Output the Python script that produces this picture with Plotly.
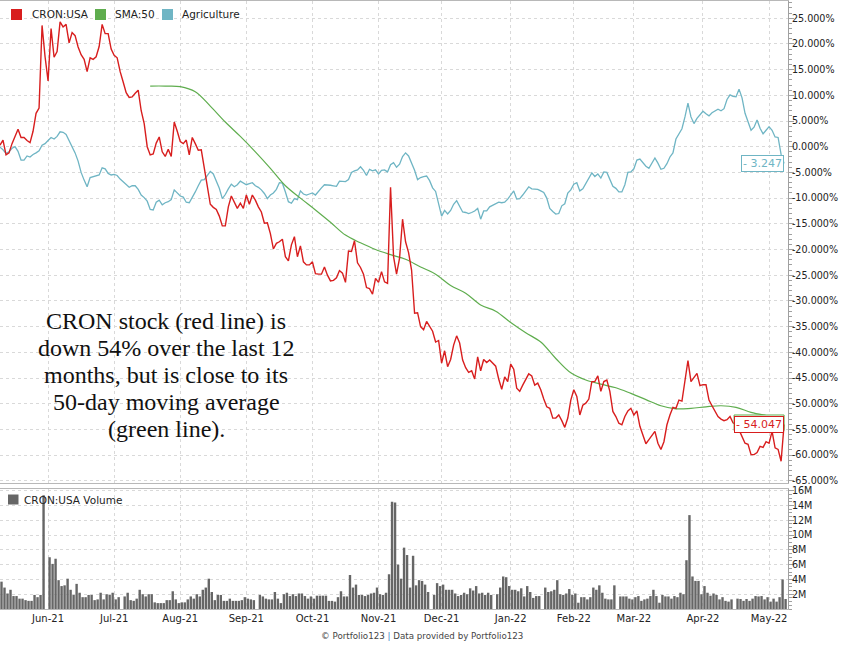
import plotly.graph_objects as go
import pandas as pd

# ---------------- data ----------------
start_date = "2021-05-10"          # first session shown (weekday axis, holidays kept as empty slots)

# CRON:USA, % change since start (one value per weekday)
cron = [0.3, 1.3, -1.6, -1.2, 0.6, 2.2, 3.4, 1.8, 1.8, 1.2, 0.8, 3.0, 6.5, 7.5, 23.6, 17.5, 12.8, 23.0, 17.4, 18.5,
        24.3, 23.3, 23.8, 20.2, 22.2, 21.6, 19.4, 17.9, 17.0, 14.6, 17.3, 17.0, 17.5, 19.5, 23.8, 22.0, 22.0, 19.0, 17.8, 17.3,
        14.6, 12.6, 10.5, 9.6, 9.7, 10.4, 11.0, 7.0, 4.5, 0.0, -1.6, -1.4, 0.7, 1.9, -1.0, -1.9, -0.5, -1.9, 4.8, 3.0,
        1.0, 0.6, 1.3, -1.6, 1.8, 0.6, -0.7, -0.6, -3.9, -7.8, -11.2, -11.8, -12.2, -13.5, -15.4, -15.4, -11.7, -9.6, -10.7, -12.0,
        -11.0, -12.0, -9.4, -11.2, -9.4, -10.4, -11.7, -12.7, -14.9, -14.8, -16.9, -19.9, -18.8, -18.5, -18.0, -21.4, -22.2, -19.1, -17.5, -21.4,
        -19.3, -22.4, -23.0, -23.0, -22.4, -24.7, -24.8, -24.8, -23.4, -25.0, -26.1, -26.0, -25.5, -24.1, -24.6, -26.4, -20.3, -20.4, -18.3, -22.6,
        -23.5, -24.8, -27.4, -27.6, -28.7, -25.6, -26.4, -24.3, -26.3, -26.6, -7.9, -21.4, -24.8, -21.7, -14.1, -18.5, -20.6, -24.0, -32.4, -32.3,
        -35.0, -35.6, -34.0, -35.0, -35.9, -38.0, -37.7, -42.1, -39.7, -42.8, -41.4, -38.6, -36.8, -38.2, -41.5, -43.0, -43.9, -43.6, -45.2, -40.9,
        -43.6, -41.4, -42.0, -41.5, -42.1, -42.7, -45.2, -47.2, -44.8, -45.7, -42.3, -43.3, -47.0, -47.6, -46.4, -45.4, -44.2, -44.6, -46.4, -46.0,
        -47.3, -49.1, -50.6, -50.9, -52.8, -52.8, -52.2, -53.3, -54.6, -52.8, -49.3, -47.3, -48.6, -52.2, -50.3, -49.9, -49.1, -45.7, -45.7, -44.6,
        -47.6, -45.7, -45.4, -47.6, -51.5, -52.5, -53.8, -54.1, -52.5, -51.4, -50.9, -52.2, -51.4, -54.4, -56.0, -57.8, -57.0, -56.3, -55.4, -57.7,
        -58.9, -57.4, -54.1, -52.2, -50.7, -50.9, -49.3, -49.5, -45.4, -41.6, -45.7, -45.0, -44.1, -46.5, -46.3, -46.3, -49.3, -50.4, -51.5, -52.5,
        -53.0, -53.3, -53.1, -52.5, -53.7, -54.1, -55.1, -56.4, -57.7, -57.9, -59.9, -59.9, -59.5, -58.3, -58.5, -57.4, -57.7, -55.4, -58.6, -58.9,
        -61.2, -54.047]

# Agriculture, % change since start (one value per weekday)
agri = [-0.1, -0.6, -1.3, -1.0, -0.3, 0.0, -0.9, -2.6, -2.6, -1.8, -2.0, -1.5, -1.2, -0.8, 0.3, 0.6, 1.2, 1.8, 1.5, 2.0,
        2.9, 2.8, 2.4, 1.2, -0.2, -1.2, -2.8, -5.0, -6.5, -7.8, -6.0, -5.8, -5.7, -5.5, -4.1, -4.3, -5.2, -5.5, -5.4, -5.6,
        -6.3, -6.8, -7.4, -7.9, -7.6, -7.6, -8.3, -9.4, -9.9, -10.6, -12.2, -12.3, -10.8, -10.4, -11.3, -10.9, -10.7, -10.3, -8.4, -9.0,
        -9.6, -9.8, -10.8, -10.9, -9.9, -8.8, -7.6, -6.5, -6.4, -5.5, -4.8, -5.3, -6.6, -8.1, -10.1, -9.3, -8.2, -7.3, -7.8, -7.4,
        -6.7, -7.0, -7.4, -7.2, -7.0, -7.6, -7.9, -8.4, -9.1, -10.1, -9.4, -9.0, -8.3, -7.0, -7.1, -8.8, -10.7, -11.0, -10.1, -10.3,
        -8.6, -9.2, -9.4, -9.2, -9.0, -9.4, -8.6, -8.0, -7.4, -7.4, -7.5, -7.6, -7.7, -6.7, -6.7, -6.8, -6.4, -5.0, -4.7, -4.5,
        -3.9, -4.6, -5.6, -4.4, -4.7, -4.5, -5.3, -4.6, -4.5, -4.9, -3.5, -3.1, -4.0, -3.4, -1.9, -1.2, -1.8, -3.1, -4.6, -6.4,
        -6.0, -5.8, -5.7, -6.6, -8.0, -8.7, -11.2, -13.5, -12.4, -13.1, -12.4, -11.2, -10.5, -11.6, -12.7, -12.8, -13.0, -12.8, -12.5, -12.0,
        -14.1, -12.5, -12.5, -11.7, -11.4, -11.1, -10.8, -10.9, -10.8, -10.2, -9.5, -8.6, -10.2, -10.1, -9.4, -8.6, -7.8, -8.2, -8.3, -8.3,
        -8.6, -8.9, -10.0, -12.0, -12.6, -13.1, -13.0, -11.5, -11.1, -9.0, -8.4, -7.3, -7.0, -8.6, -8.2, -7.1, -6.0, -5.1, -5.8, -5.3,
        -6.1, -4.9, -5.0, -6.3, -7.7, -8.1, -8.8, -8.8, -7.4, -5.0, -4.9, -4.3, -2.6, -2.4, -3.2, -3.8, -4.2, -3.2, -2.2, -3.2,
        -4.4, -4.2, -3.3, -2.0, -1.2, 1.5, 2.5, 3.5, 5.8, 8.5, 5.8, 4.5, 5.5, 6.2, 6.9, 6.4, 6.0, 6.6, 6.9, 7.3,
        7.0, 7.4, 9.2, 10.1, 9.8, 9.7, 11.2, 9.5, 6.5, 4.8, 3.2, 3.8, 5.2, 3.6, 2.5, 3.2, 3.9, 3.2, 1.9, 1.8,
        -1.5, -3.247]

# SMA:50 of CRON (read every 5 sessions, starting at session 50)
sma_first_session = 50
sma_step = 5
sma50 = [11.8, 11.8, 11.7, 10.7, 7.9, 4.8, 2.0, -1.0, -4.2, -7.6, -10.0, -12.3, -14.7, -17.2, -18.7, -20.0, -21.0, -21.9,
         -23.4, -24.8, -27.0, -28.5, -30.8, -32.0, -34.2, -36.2, -38.0, -41.2, -44.0, -45.4, -46.2, -46.9, -48.0, -49.2,
         -50.4, -51.0, -50.9, -50.6, -50.4, -50.7, -51.7, -52.3, -52.8]

# CRON:USA daily volume, millions (0 = market holiday)
volume_m = [3.7, 2.9, 2.1, 2.6, 1.75, 1.75, 1.4, 1.4, 1.2, 1.1, 1.1, 1.9, 1.6, 1.9, 15.4, 0, 7.0, 6.1, 6.8, 3.9,
            3.1, 3.2, 4.1, 2.6, 1.9, 3.4, 2.2, 1.6, 1.6, 1.9, 1.9, 1.2, 1.3, 2.2, 1.3, 2.0, 1.9, 2.2, 1.3, 1.6,
            0, 1.7, 2.2, 1.2, 1.1, 1.4, 2.6, 2.0, 1.7, 2.0, 2.0, 0.9, 0.8, 0.8, 0.8, 1.2, 1.2, 2.4, 1.3, 0.8,
            0.9, 0.9, 1.3, 1.7, 1.4, 2.0, 1.7, 2.6, 2.9, 4.1, 2.3, 1.2, 1.9, 1.9, 1.1, 1.1, 1.4, 1.1, 1.1, 1.1,
            1.2, 1.6, 1.4, 1.3, 1.2, 0, 1.9, 1.7, 1.4, 1.3, 1.3, 2.3, 1.4, 0.8, 2.0, 2.2, 1.75, 2.0, 1.75, 2.1,
            2.1, 1.75, 1.4, 1.7, 1.4, 1.8, 1.8, 1.8, 1.8, 1.1, 1.1, 1.0, 1.6, 2.4, 1.7, 1.7, 4.6, 2.9, 3.3, 1.9,
            1.9, 1.75, 1.9, 2.1, 2.2, 2.9, 2.0, 1.9, 2.2, 4.7, 14.5, 14.4, 6.0, 4.1, 8.3, 7.3, 2.9, 7.2, 3.2, 3.9,
            3.8, 3.3, 2.3, 0, 1.9, 3.5, 3.1, 3.3, 2.6, 2.6, 2.6, 2.1, 1.75, 1.9, 2.2, 2.0, 2.8, 2.5, 3.1, 2.1,
            2.2, 1.9, 2.2, 1.9, 0, 2.0, 2.9, 4.4, 4.3, 3.1, 2.6, 2.6, 2.4, 2.8, 1.7, 3.1, 2.3, 1.5, 1.75, 1.75,
            0, 2.9, 2.3, 2.4, 2.6, 3.9, 2.0, 1.9, 2.1, 2.7, 1.9, 2.1, 0.85, 1.6, 1.6, 1.3, 1.6, 2.9, 2.6, 3.2,
            2.2, 1.4, 1.3, 1.3, 3.2, 0, 1.7, 1.7, 1.7, 1.4, 1.3, 1.6, 1.75, 1.1, 1.3, 1.4, 1.75, 2.6, 1.75, 0.85,
            1.9, 1.7, 1.7, 1.4, 1.75, 1.6, 2.2, 2.0, 6.6, 12.7, 4.4, 3.8, 3.8, 2.0, 3.1, 2.2, 1.8, 2.1, 1.9, 1.3,
            1.6, 1.1, 1.0, 1.3, 0, 1.4, 1.35, 1.1, 1.35, 1.1, 1.4, 1.75, 1.7, 1.75, 1.3, 1.6, 1.0, 1.4, 1.0, 1.6,
            4.0, 1.35]

# dates where the month gridlines / labels sit
tick_dates = ["2021-06-01", "2021-07-01", "2021-08-02", "2021-09-01", "2021-10-01", "2021-11-02",
              "2021-12-01", "2022-01-03", "2022-02-01", "2022-03-01", "2022-04-01", "2022-05-03"]
pct_ticks = list(range(-65, 26, 5))
vol_ticks = list(range(2, 17, 2))

names = ["CRON:USA", "SMA:50", "Agriculture"]
note_lines = ["CRON stock (red line) is", "down 54% over the last 12", "months, but is close to its",
              "50-day moving average", "(green line)."]

# ---------------- build ----------------
RED, GREEN, CYAN, GRAY = "#d81e1e", "#5fad4e", "#6fb5c4", "#666666"
GRID = "#d9d9d9"
AX = "#a0a0a0"
XTICKFONT = dict(family="DejaVu Sans", size=10, color="#222222")
YTICKFONT = dict(family="DejaVu Sans", size=9.6, color="#222222")

n = len(volume_m)
dates = pd.bdate_range(start_date, periods=n)
pos = {d.strftime("%Y-%m-%d"): i for i, d in enumerate(dates)}
tickvals = [pos[d] for d in tick_dates]
ticktext = [pd.Timestamp(d).strftime("%b-%y") for d in tick_dates]
sma_x = [sma_first_session + sma_step * k for k in range(len(sma50))]

W, H = 845, 650
ML, MR, MT, MB = 0, 57, 1, 41
PW, PH = W - ML - MR, H - MT - MB


def px2paper(px, py):
    return (px - ML) / PW, (H - MB - py) / PH


fig = go.Figure()
fig.add_trace(go.Bar(x=[i + 0.5 for i in range(n)], y=volume_m, width=0.8,
                     marker=dict(color=GRAY, line=dict(width=0)), xaxis="x2", yaxis="y2",
                     hoverinfo="skip", showlegend=False))
fig.add_trace(go.Scatter(x=list(range(len(agri))), y=agri, mode="lines", name=names[2],
                         line=dict(color=CYAN, width=1.3), showlegend=False))
fig.add_trace(go.Scatter(x=sma_x, y=sma50, mode="lines", name=names[1],
                         line=dict(color=GREEN, width=1.2, shape="spline"), showlegend=False))
fig.add_trace(go.Scatter(x=list(range(len(cron))), y=cron, mode="lines", name=names[0],
                         line=dict(color=RED, width=1.4), showlegend=False))

xr = [0, 262.3]
common_x = dict(range=xr, tickmode="array", tickvals=tickvals, ticktext=ticktext, ticks="",
                showgrid=True, gridcolor=GRID, griddash="3px,3px", gridwidth=1,
                showline=True, mirror=True, linecolor="#b8b8b8", linewidth=1, zeroline=False,
                tickfont=XTICKFONT, fixedrange=True, automargin=False)
common_y = dict(side="right", ticks="outside", ticklen=5, tickcolor=AX, tickwidth=1,
                ticklabelstandoff=-4,
                showgrid=True, gridcolor=GRID, griddash="3px,3px", gridwidth=1,
                showline=True, mirror=True, linecolor=AX, linewidth=1, zeroline=False,
                tickfont=YTICKFONT, automargin=False, fixedrange=True)
fig.update_layout(
    template="none",
    width=W, height=H, margin=dict(l=ML, r=MR, t=MT, b=MB, autoexpand=False),
    paper_bgcolor="white", plot_bgcolor="white", showlegend=False, hovermode=False,
    font=dict(family="DejaVu Sans", color="#222222"),
    xaxis=dict(common_x, domain=[0, 1], anchor="y", showticklabels=False),
    xaxis2=dict(common_x, domain=[0, 1], anchor="y2", showticklabels=True),
    yaxis=dict(common_y, domain=[(609 - 483) / PH, 1], range=[-65.43, 28.35], anchor="x",
               tickmode="array", tickvals=pct_ticks, ticktext=[f"{v:.3f}%" for v in pct_ticks],
               minor=dict(tickmode="linear", tick0=0, dtick=1, ticks="outside", ticklen=3,
                          tickcolor=AX, showgrid=False)),
    yaxis2=dict(common_y, domain=[0, (609 - 488.5) / PH], range=[0, 16.3], anchor="x2",
                tickmode="array", tickvals=vol_ticks, ticktext=[f"{v}M" for v in vol_ticks],
                minor=dict(tickmode="linear", tick0=0, dtick=0.5, ticks="outside", ticklen=3,
                           tickcolor=AX, showgrid=False)),
)

shapes, annos = [], []
# legend of the price panel
LEGFONT = dict(family="DejaVu Sans", size=10.5, color="#222222")
for col, name, sx, tx in [(RED, names[0], 11, 29.5), (GREEN, names[1], 95, 113), (CYAN, names[2], 162, 180)]:
    x0, y0 = px2paper(sx, 20)
    x1, y1 = px2paper(sx + 11, 9)
    shapes.append(dict(type="rect", xref="paper", yref="paper", x0=x0, x1=x1, y0=y0, y1=y1,
                       fillcolor=col, line=dict(width=0)))
    ax_, ay_ = px2paper(tx, 14.5)
    annos.append(dict(xref="paper", yref="paper", x=ax_, y=ay_, text=name, showarrow=False,
                      xanchor="left", yanchor="middle", font=LEGFONT))
# legend of the volume panel
x0, y0 = px2paper(8, 504.5)
x1, y1 = px2paper(18.5, 494.5)
shapes.append(dict(type="rect", xref="paper", yref="paper", x0=x0, x1=x1, y0=y0, y1=y1,
                   fillcolor=GRAY, line=dict(width=0)))
ax_, ay_ = px2paper(22, 499.5)
annos.append(dict(xref="paper", yref="paper", x=ax_, y=ay_, text="CRON:USA Volume", showarrow=False,
                  xanchor="left", yanchor="middle", font=LEGFONT))

# commentary text
for k, line in enumerate(note_lines):
    ax_, ay_ = px2paper(166, 320.5 + 27.2 * k)
    annos.append(dict(xref="paper", yref="paper", x=ax_, y=ay_, text=line, showarrow=False,
                      xanchor="center", yanchor="middle",
                      font=dict(family="Liberation Serif", size=24, color="#111111")))

# last-value tags
last = len(cron) - 1
# SMA tag sits just behind the CRON tag: only its top border shows
shapes.append(dict(type="rect", xref="x", yref="y", xsizemode="pixel", ysizemode="pixel",
                   xanchor=last, yanchor=cron[-1], x0=-50, x1=0, y0=-6, y1=9.5,
                   fillcolor="white", line=dict(color=GREEN, width=1), layer="above"))


def tag(value, color):
    return dict(x=last, y=value, xref="x", yref="y", text=f"- {abs(value):.3f}", showarrow=False,
                xanchor="right", yanchor="middle", xshift=0,
                font=dict(family="DejaVu Sans", size=11, color=color), bgcolor="white",
                bordercolor=color, borderwidth=1, borderpad=1)


annos.append(tag(cron[-1], RED))
annos.append(tag(agri[-1], CYAN))

# footer
ax_, ay_ = px2paper(422, 636)
annos.append(dict(xref="paper", yref="paper", x=ax_, y=ay_, showarrow=False, xanchor="center",
                  yanchor="middle",
                  text="© Portfolio123 <span style='color:#3d7fc6'>|</span> Data provided by Portfolio123",
                  font=dict(family="DejaVu Sans", size=8.7, color="#444444")))

fig.update_layout(shapes=shapes, annotations=annos)
# remove the browser's default 8px page margin so the chart sits at the window's corner
fig.write_html("out.html", config={"displayModeBar": False, "staticPlot": True},
               post_script="document.body.style.margin='0';document.body.style.overflow='hidden';")
